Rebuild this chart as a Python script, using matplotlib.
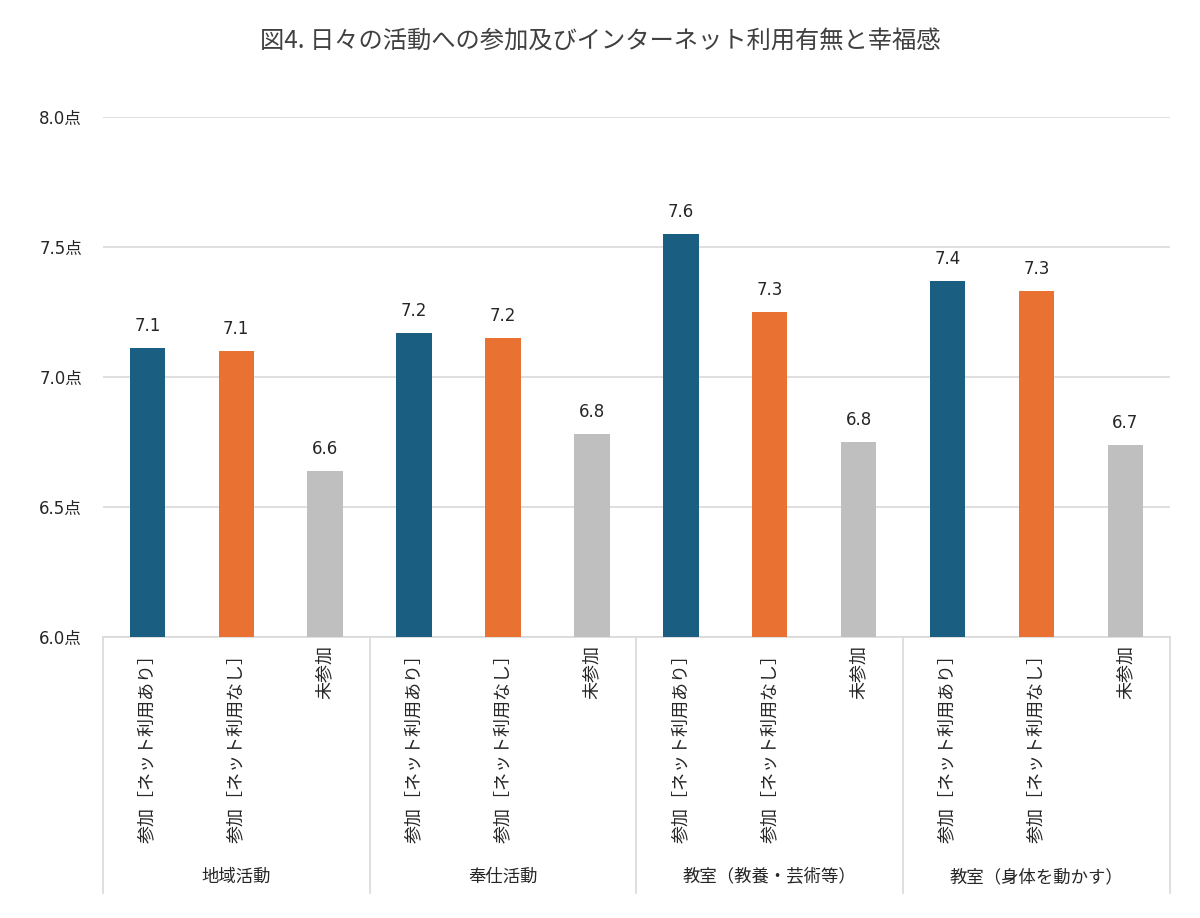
import matplotlib
matplotlib.use("Agg")
import matplotlib.pyplot as plt
import matplotlib.transforms as mtransforms

plt.rcParams['font.family'] = ['Noto Sans CJK JP', 'DejaVu Sans']

groups = ['地域活動', '奉仕活動', '教室（教養・芸術等）', '教室（身体を動かす）']
sub_labels = ['参加［ネット利用あり］', '参加［ネット利用なし］', '未参加']
values = [7.11, 7.10, 6.64,
          7.17, 7.15, 6.78,
          7.55, 7.25, 6.75,
          7.37, 7.33, 6.74]
value_labels = ['7.1', '7.1', '6.6',
                '7.2', '7.2', '6.8',
                '7.6', '7.3', '6.8',
                '7.4', '7.3', '6.7']
colors = ['#1A5E82', '#E97132', '#BFBFBF']
yticks = [6.0, 6.5, 7.0, 7.5, 8.0]

fig = plt.figure(figsize=(12, 9.18), dpi=100)
ax = fig.add_axes([0.0858, 0.306, 0.889, 0.5665])

x = list(range(len(values)))
bar_colors = [colors[i % 3] for i in x]
ax.bar(x, [v - 6.0 for v in values], bottom=6.0, width=0.4, color=bar_colors, zorder=3)
for xi, v, lab in zip(x, values, value_labels):
    ax.text(xi, v + 0.05, lab, ha='center', va='bottom', fontsize=12, color='#262626',
            family=['DejaVu Sans'])

ax.set_xlim(-0.5, len(values) - 0.5)
ax.set_ylim(6.0, 8.0)
ax.set_yticks(yticks)
ax.set_yticklabels([f'{t:.1f}点' for t in yticks], fontsize=12, color='#262626',
                   family=['DejaVu Sans', 'Noto Sans CJK JP'])
ax.grid(axis='y', color='#D9D9D9', linewidth=1.2, zorder=0)
ax.tick_params(axis='y', length=0, pad=15)
ax.set_xticks(x)
ax.set_xticklabels([sub_labels[i % 3] for i in x], rotation=90, fontsize=13,
                   color='#262626', va='top', ha='center')
ax.tick_params(axis='x', length=0, pad=6)
for s in ['top', 'right', 'left']:
    ax.spines[s].set_visible(False)
ax.spines['bottom'].set_color('#D9D9D9')
ax.spines['bottom'].set_linewidth(1.2)

trans = mtransforms.blended_transform_factory(ax.transData, ax.transAxes)
for k in range(len(groups) + 1):
    xs = k * 3 - 0.5
    ax.plot([xs, xs], [0, -0.492], transform=trans, color='#D9D9D9', linewidth=1.2,
            clip_on=False)
for k, g in enumerate(groups):
    ax.text(k * 3 + 1, -0.462, g, transform=trans, ha='center', va='center',
            fontsize=12.5, color='#262626')

fig.text(0.5, 0.955, '図4. 日々の活動への参加及びインターネット利用有無と幸福感',
         ha='center', va='center', fontsize=17.5, color='#404040')

fig.savefig('out.png', dpi=100)
